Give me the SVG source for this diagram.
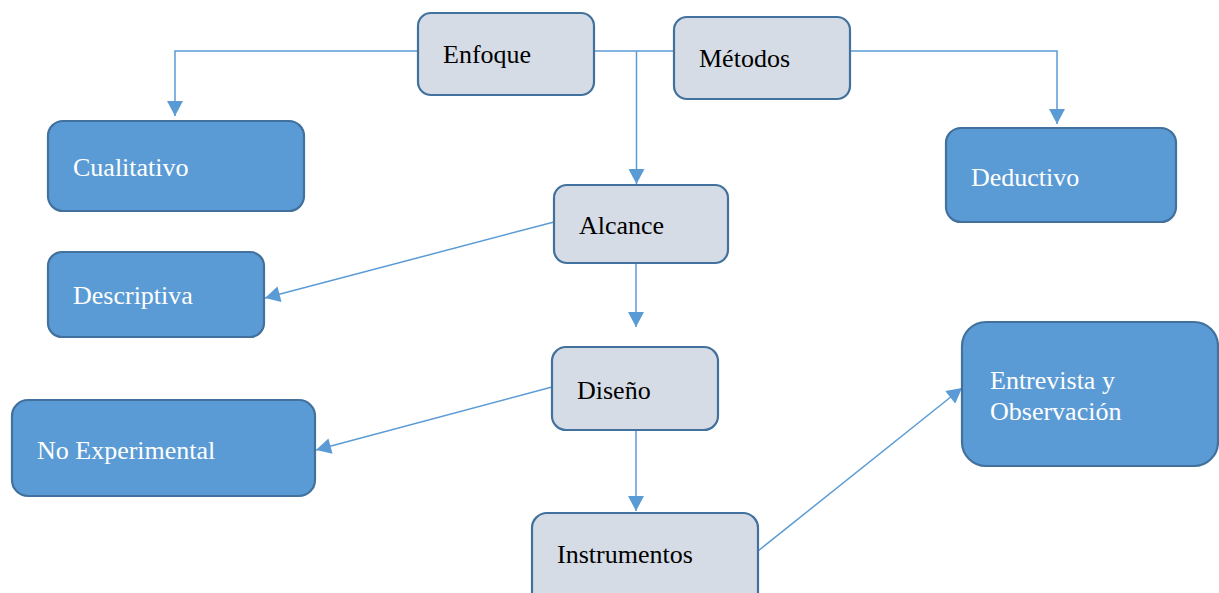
<svg xmlns="http://www.w3.org/2000/svg" width="1219" height="593" viewBox="0 0 1219 593">
<style>
.dark{fill:#5B9BD5;stroke:#41719C;stroke-width:2.2}
.light{fill:#D6DCE5;stroke:#41719C;stroke-width:2.2}
.tw{font-family:"Liberation Serif","Times New Roman",serif;font-size:26px;fill:#FFFFFF}
.tb{font-family:"Liberation Serif","Times New Roman",serif;font-size:26px;fill:#000000}
.c{fill:none;stroke:#5B9BD5;stroke-width:1.5}
</style>
<defs>
<marker id="ah" markerUnits="userSpaceOnUse" markerWidth="16" markerHeight="16" viewBox="0 0 15 16" refX="15" refY="8" orient="auto">
<path d="M0,0 L15,8 L0,16 Z" fill="#5B9BD5"/>
</marker>
</defs>
<g id="connectors">
<path class="c" d="M418,51 H175 V116" marker-end="url(#ah)"/>
<path class="c" d="M594,51 H674"/>
<path class="c" d="M636.5,51 V184" marker-end="url(#ah)"/>
<path class="c" d="M850,51 H1057 V124" marker-end="url(#ah)"/>
<path class="c" d="M554,222 L265,298" marker-end="url(#ah)"/>
<path class="c" d="M636,263 V327" marker-end="url(#ah)"/>
<path class="c" d="M552,387 L316,450" marker-end="url(#ah)"/>
<path class="c" d="M636,431 V511" marker-end="url(#ah)"/>
<path class="c" d="M758,551 L962,388" marker-end="url(#ah)"/>
</g>
<g id="enfoque">
<rect class="light" x="418" y="13" width="176" height="82" rx="13"/>
<text class="tb" x="443" y="63">Enfoque</text>
</g>
<g id="metodos">
<rect class="light" x="674" y="17" width="176" height="82" rx="13"/>
<text class="tb" x="699" y="67">Métodos</text>
</g>
<g id="cualitativo">
<rect class="dark" x="48" y="121" width="256" height="90" rx="15"/>
<text class="tw" x="73" y="176">Cualitativo</text>
</g>
<g id="deductivo">
<rect class="dark" x="946" y="128" width="230" height="94" rx="15"/>
<text class="tw" x="971" y="186">Deductivo</text>
</g>
<g id="alcance">
<rect class="light" x="554" y="185" width="174" height="78" rx="13"/>
<text class="tb" x="579" y="234">Alcance</text>
</g>
<g id="descriptiva">
<rect class="dark" x="48" y="252" width="216" height="85" rx="14"/>
<text class="tw" x="73" y="304">Descriptiva</text>
</g>
<g id="diseno">
<rect class="light" x="552" y="347" width="166" height="83" rx="14"/>
<text class="tb" x="577" y="399">Diseño</text>
</g>
<g id="noexperimental">
<rect class="dark" x="12" y="400" width="303" height="96" rx="16"/>
<text class="tw" x="37" y="459">No Experimental</text>
</g>
<g id="instrumentos">
<rect class="light" x="532" y="513" width="226" height="100" rx="15"/>
<text class="tb" x="557" y="563">Instrumentos</text>
</g>
<g id="entrevista">
<rect class="dark" x="962" y="322" width="256" height="144" rx="24"/>
<text class="tw" x="990" y="389">Entrevista y</text>
<text class="tw" x="990" y="420">Observación</text>
</g>
</svg>
